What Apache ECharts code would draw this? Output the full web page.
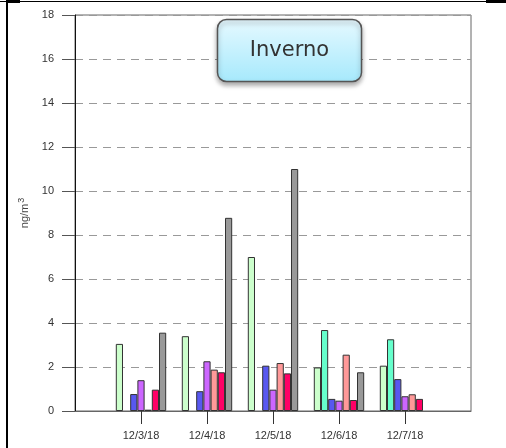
<!DOCTYPE html>
<html>
<head>
<meta charset="utf-8">
<script src="https://cdn.jsdelivr.net/npm/echarts@6/dist/echarts.min.js"></script>
<style>html,body{margin:0;padding:0;background:#fff;}#c{width:506px;height:448px;}</style>
</head>
<body>
<div id="c"></div>
<script>
var categories = ['', '12/3/18', '12/4/18', '12/5/18', '12/6/18', '12/7/18', ''];
var yTicks = [0, 2, 4, 6, 8, 10, 12, 14, 16, 18];
var s1 = [null, 3.05, 3.4, 7.0, 1.98, 2.06, null];
var s2 = [null, null, null, null, 3.68, 3.26, null];
var s3 = [null, 0.77, 0.9, 2.06, 0.55, 1.45, null];
var s4 = [null, 1.4, 2.26, 0.97, 0.47, 0.67, null];
var s5 = [null, 0.06, 1.88, 2.18, 2.56, 0.76, null];
var s6 = [null, 0.97, 1.76, 1.71, 0.5, 0.55, null];
var s7 = [null, 3.56, 8.78, 11.0, 1.76, null, null];
var seriesNames = ['S1', 'S2', 'S3', 'S4', 'S5', 'S6', 'S7'];
var seriesData = [s1, s2, s3, s4, s5, s6, s7];
var colors = ['#ccffcc', '#66ffcc', '#5858f0', '#cc66ff', '#ff9999', '#ff0066', '#999999'];

var chart = echarts.init(document.getElementById('c'), null, {renderer: 'canvas'});
var series = seriesData.map(function (d, i) {
  return {
    name: seriesNames[i],
    type: 'bar',
    data: d,
    barWidth: 7.2,
    barGap: '0%',
    itemStyle: {color: colors[i], borderColor: '#333', borderWidth: 1},
    emphasis: {disabled: true}
  };
});
var option = {
  animation: false,
  grid: {left: 75, top: 15, width: 396, height: 396, show: true, borderColor: '#666', borderWidth: 1, backgroundColor: 'transparent'},
  xAxis: {
    type: 'category',
    data: categories,
    boundaryGap: false,
    axisLine: {lineStyle: {color: '#666', width: 1}},
    axisTick: {show: true, length: 13, lineStyle: {color: '#333'}, interval: function (i, v) { return v !== ''; }},
    axisLabel: {interval: 0, margin: 19, color: '#333', fontSize: 11, fontFamily: 'Liberation Sans'},
    splitLine: {show: false}
  },
  yAxis: {
    type: 'value',
    min: 0, max: 18, interval: 2,
    name: '{a|ng/m}{b|3}',
    nameLocation: 'middle',
    nameGap: 38,
    nameRotate: 90,
    nameTextStyle: {
      rich: {
        a: {fontSize: 11, color: '#444', fontFamily: 'Liberation Sans'},
        b: {fontSize: 9, color: '#444', fontFamily: 'Liberation Sans', verticalAlign: 'top', padding: [0, 0, 7, 1]}
      }
    },
    axisLine: {show: true, lineStyle: {color: '#111', width: 1}},
    axisTick: {show: true, length: 13, lineStyle: {color: '#555'}},
    axisLabel: {margin: 21, color: '#333', fontSize: 11, fontFamily: 'Liberation Sans'},
    splitLine: {show: true, lineStyle: {color: '#999', type: [8, 6], width: 1}}
  },
  series: series,
  graphic: [
    {type: 'rect', shape: {x: 0, y: 1, width: 506, height: 1}, style: {fill: '#000'}, silent: true},
    {type: 'rect', shape: {x: 6, y: 0, width: 14, height: 3}, style: {fill: '#000'}, silent: true},
    {type: 'rect', shape: {x: 486, y: 0, width: 20, height: 3}, style: {fill: '#000'}, silent: true},
    {type: 'rect', shape: {x: 6, y: 0, width: 2, height: 448}, style: {fill: '#000'}, silent: true},
    {
      type: 'rect',
      shape: {x: 217.5, y: 19.5, width: 144, height: 62, r: 9},
      style: {
        fill: new echarts.graphic.LinearGradient(0, 0, 0, 1, [
          {offset: 0, color: '#e6f9ff'},
          {offset: 1, color: '#a6e9fc'}
        ]),
        stroke: '#555',
        lineWidth: 1.5,
        shadowBlur: 5,
        shadowOffsetY: 3,
        shadowColor: 'rgba(0,0,0,0.35)'
      },
      z: 100,
      silent: true
    },
    {
      type: 'text',
      x: 289.5, y: 51,
      style: {text: 'Inverno', fill: '#333', fontSize: 21, fontFamily: 'DejaVu Sans', align: 'center', verticalAlign: 'middle'},
      z: 101,
      silent: true
    }
  ]
};
chart.setOption(option);
</script>
</body>
</html>
